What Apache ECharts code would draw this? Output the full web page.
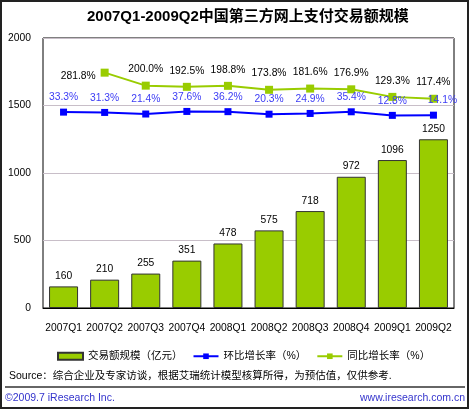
<!DOCTYPE html>
<html>
<head>
<meta charset="utf-8">
<script src="https://cdn.jsdelivr.net/npm/echarts@6/dist/echarts.min.js"></script>
<style>html,body{margin:0;padding:0;background:#fff;}#c{width:470px;height:410px;}</style>
</head>
<body>
<div id="c"></div>
<script>
var categories = ['2007Q1','2007Q2','2007Q3','2007Q4','2008Q1','2008Q2','2008Q3','2008Q4','2009Q1','2009Q2'];
var volume = [160, 210, 255, 351, 478, 575, 718, 972, 1096, 1250];
var qoq = [33.3, 31.3, 21.4, 37.6, 36.2, 20.3, 24.9, 35.4, 12.8, 14.1];
var yoy = [null, 281.8, 200.0, 192.5, 198.8, 173.8, 181.6, 176.9, 129.3, 117.4];
var yTicks = [0, 500, 1000, 1500, 2000];
var seriesNames = ['交易额规模（亿元）', '环比增长率（%）', '同比增长率（%）'];

var FONT = "'Liberation Sans','Noto Sans CJK SC',sans-serif";
var GREEN = '#99cc00';
var BLUE = '#0000ff';

var yoyData = yoy.map(function (v, i) {
  if (i === 1) return { value: v, label: { position: 'left', offset: [2, 4] } };
  return v;
});
var qoqData = qoq.map(function (v, i) {
  if (i === qoq.length - 1) return { value: v, label: { offset: [9, 0] } };
  return v;
});

var chart = echarts.init(document.getElementById('c'), null, { renderer: 'canvas' });
chart.setOption({
  animation: false,
  backgroundColor: '#fff',
  title: {
    text: '2007Q1-2009Q2中国第三方网上支付交易额规模',
    left: 82, top: 4,
    textStyle: { fontFamily: FONT, fontSize: 15, fontWeight: 'bold', color: '#000' }
  },
  grid: { left: 43, top: 38, right: 16, bottom: 102, show: true, borderColor: '#000', borderWidth: 1, containLabel: false },
  legend: {
    left: 52, top: 346, itemGap: 10, itemWidth: 25, itemHeight: 7,
    textStyle: { fontFamily: FONT, fontSize: 10.5, color: '#000' },
    data: [
      { name: seriesNames[0], icon: 'rect' },
      { name: seriesNames[1] },
      { name: seriesNames[2] }
    ]
  },
  xAxis: {
    type: 'category', data: categories,
    axisLine: { show: true, lineStyle: { color: '#000' } },
    axisTick: { show: false },
    axisLabel: { margin: 15, fontFamily: FONT, fontSize: 10.3, color: '#000', interval: 0 }
  },
  yAxis: [
    {
      type: 'value', min: yTicks[0], max: yTicks[yTicks.length - 1], interval: 500,
      axisLine: { show: false }, axisTick: { show: false },
      axisLabel: { margin: 12, fontFamily: FONT, fontSize: 10.3, color: '#000', formatter: function (v) { return String(v); } },
      splitLine: { show: true, lineStyle: { color: '#c8bec8', width: 1 } }
    },
    {
      type: 'value', min: -1200, max: 500, show: false,
      splitLine: { show: false }
    }
  ],
  series: [
    {
      name: seriesNames[0], type: 'bar', data: volume, barWidth: 29,
      itemStyle: { color: GREEN, borderColor: '#333', borderWidth: 1 },
      label: { show: true, position: 'top', distance: 5, fontFamily: FONT, fontSize: 10.3, color: '#000' }
    },
    {
      name: seriesNames[1], type: 'line', yAxisIndex: 1, data: qoqData,
      symbol: 'rect', symbolSize: 7,
      lineStyle: { color: BLUE, width: 2 }, itemStyle: { color: BLUE },
      label: { show: true, position: 'top', distance: 6, fontFamily: FONT, fontSize: 10.3, color: '#3c3cf5', formatter: function (p) { return p.value.toFixed(1) + '%'; } }
    },
    {
      name: seriesNames[2], type: 'line', yAxisIndex: 1, data: yoyData,
      symbol: 'rect', symbolSize: 8, connectNulls: false,
      lineStyle: { color: GREEN, width: 2 }, itemStyle: { color: GREEN },
      label: { show: true, position: 'top', distance: 7, fontFamily: FONT, fontSize: 10.3, color: '#000', formatter: function (p) { return p.value.toFixed(1) + '%'; } }
    }
  ],
  graphic: [
    { type: 'rect', shape: { x: 1, y: 1, width: 467, height: 407 }, style: { fill: 'none', stroke: '#222', lineWidth: 2 }, silent: true },
    { type: 'line', shape: { x1: 5, y1: 387, x2: 465, y2: 387 }, style: { stroke: '#333', lineWidth: 1.5 }, silent: true },
    { type: 'text', left: 9, top: 371, style: { text: 'Source：综合企业及专家访谈，根据艾瑞统计模型核算所得，为预估值，仅供参考.', font: "10.5px 'Liberation Sans','Noto Sans CJK SC',sans-serif", fill: '#000' } },
    { type: 'text', left: 5, top: 393, style: { text: '©2009.7 iResearch Inc.', font: "10.5px 'Liberation Sans',sans-serif", fill: '#3333cc' } },
    { type: 'text', right: 5, top: 393, style: { text: 'www.iresearch.com.cn', font: "10.5px 'Liberation Sans',sans-serif", fill: '#3333cc' } }
  ]
});
</script>
</body>
</html>
